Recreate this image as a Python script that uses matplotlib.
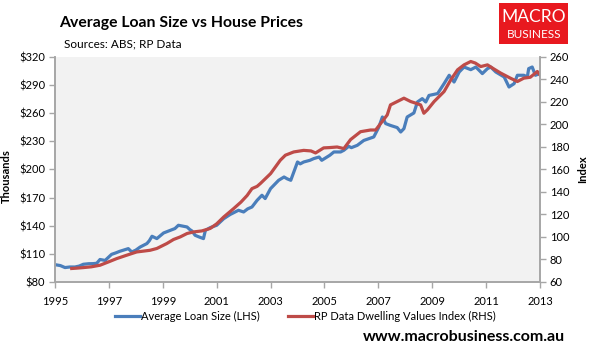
import matplotlib as mpl
mpl.rcParams["font.family"] = ["Lato", "DejaVu Sans"]
mpl.rcParams["font.size"] = 8
import matplotlib.pyplot as plt
from matplotlib.patches import Rectangle

# Average loan size ($ thousands, LHS)
loan_t = [1995.0, 1995.2, 1995.37, 1995.55, 1995.74, 1995.9, 1996.05, 1996.25, 1996.42,
          1996.55, 1996.67, 1996.86, 1997.1, 1997.25, 1997.4, 1997.72, 1997.85, 1998.0,
          1998.16, 1998.41, 1998.5, 1998.6, 1998.78, 1999.03, 1999.27, 1999.45, 1999.58,
          1999.9, 2000.0, 2000.08, 2000.2, 2000.35, 2000.51, 2000.58, 2000.76, 2001.0,
          2001.26, 2001.5, 2001.81, 2002.0, 2002.15, 2002.31, 2002.5, 2002.68, 2002.8,
          2003.0, 2003.3, 2003.5, 2003.62, 2003.75, 2004.0, 2004.1, 2004.23, 2004.46,
          2004.6, 2004.8, 2004.9, 2005.2, 2005.35, 2005.6, 2005.72, 2005.9, 2006.0,
          2006.22, 2006.46, 2006.83, 2007.02, 2007.15, 2007.27, 2007.45, 2007.7, 2007.83,
          2007.95, 2008.07, 2008.32, 2008.45, 2008.63, 2008.76, 2008.88, 2009.2, 2009.44,
          2009.63, 2009.81, 2010.0, 2010.18, 2010.43, 2010.62, 2010.86, 2011.05, 2011.17,
          2011.36, 2011.67, 2011.85, 2012.04, 2012.16, 2012.4, 2012.53, 2012.58, 2012.71,
          2012.83, 2012.96]
loan_v = [98.5, 97.5, 95.4, 96, 96, 97, 98.9, 99.5, 99.6,
          100, 104, 103, 109.5, 111, 112.7, 115.6, 112, 114,
          117.3, 121, 124, 128.8, 126.3, 132.3, 135, 137, 140.5,
          138.7, 136, 134.5, 129.8, 128, 126.3, 135, 138, 140.5,
          147.5, 152, 156.5, 154.7, 158, 160, 167.1, 172.5, 169,
          179.6, 188.5, 192, 190, 188.5, 208, 206, 208, 209.8,
          211.6, 213.3, 209.8, 215.2, 218.7, 218.7, 220.5, 224.7, 223.3,
          225.8, 231, 234.7, 245.3, 256, 249, 247, 244.7, 240,
          243.6, 256, 260.3, 272, 275.6, 272, 279, 281, 291.6,
          300.5, 293.3, 304, 309.3, 306.5, 309.3, 302.3, 307.6, 309.3,
          304, 298.7, 288, 291.6, 300.5, 300.5, 298.7, 307.6, 309.3,
          300.5, 302]

# RP Data dwelling values index (RHS)
rp_t = [1995.62, 1995.8, 1996.05, 1996.35, 1996.67, 1997.0, 1997.29, 1997.66, 1998.03,
        1998.3, 1998.53, 1998.78, 1999.15, 1999.4, 1999.65, 1999.9, 2000.14, 2000.45,
        2000.76, 2001.0, 2001.26, 2001.63, 2001.9, 2002.13, 2002.31, 2002.5, 2002.62,
        2003.0, 2003.36, 2003.55, 2003.86, 2004.23, 2004.5, 2004.67, 2004.97, 2005.2,
        2005.47, 2005.72, 2005.97, 2006.34, 2006.71, 2006.9, 2007.33, 2007.45, 2007.7,
        2007.95, 2008.2, 2008.38, 2008.57, 2008.69, 2008.82, 2009.07, 2009.44, 2009.69,
        2009.94, 2010.18, 2010.43, 2010.6, 2010.8, 2011.05, 2011.3, 2011.54, 2011.9,
        2012.16, 2012.4, 2012.64, 2012.9, 2013.0]
rp_v = [72, 72.3, 72.8, 73.5, 74.9, 78, 80.8, 83.8, 86.7,
        87.5, 88.2, 89.8, 94.2, 97.8, 100.1, 103.1, 104.5, 105.4,
        107.6, 111.7, 117.75, 125.25, 131, 136.9, 143, 145, 147.5,
        156.3, 168.2, 172.7, 175.6, 177, 176.5, 174.7, 179.2, 179.5,
        180, 178.6, 186.6, 193.6, 195.1, 195.1, 208.5, 217.4, 220.4,
        223.4, 220.4, 219, 217.4, 210, 213, 220.4, 229.3, 239.7,
        248.6, 253, 256, 254.6, 251.5, 253, 249.2, 245.7, 241.2,
        238.2, 241.2, 242, 247.1, 244]

years = list(range(1995, 2014, 2))
lhs_ticks = list(range(80, 321, 30))
rhs_ticks = list(range(60, 261, 20))

blue = "#4a7ebb"
red = "#be4b48"
grey = "#a6a6a6"

fig = plt.figure(figsize=(5.94, 3.58), dpi=100)
ax = fig.add_axes([0.0926, 0.2123, 0.8165, 0.6285])
ax2 = ax.twinx()

ax.set_facecolor("#f2f2f2")
l1, = ax.plot(loan_t, loan_v, color=blue, lw=2.3, label="Average Loan Size (LHS)")
l2, = ax2.plot(rp_t, rp_v, color=red, lw=2.3, label="RP Data Dwelling Values Index (RHS)")

ax.set_xlim(1995, 2013)
ax.set_ylim(80, 320)
ax2.set_ylim(60, 260)
ax.set_xticks(years)
ax.set_yticks(lhs_ticks)
ax.set_yticklabels(["$%d" % v for v in lhs_ticks])
ax2.set_yticks(rhs_ticks)

for a in (ax, ax2):
    a.spines["top"].set_visible(False)
    for s in ("left", "right", "bottom"):
        a.spines[s].set_color(grey)
        a.spines[s].set_linewidth(1.2)
    a.tick_params(colors=grey, labelcolor="black", length=4, width=1, labelsize=8, pad=3)
ax.tick_params(axis="x", pad=6)

ax.set_ylabel("Thousands", fontweight="bold", fontsize=8)
ax.yaxis.set_label_coords(-0.088, 0.47)
ax2.set_ylabel("Index", fontweight="bold", fontsize=8, labelpad=6)

fig.text(0.099, 0.925, "Average Loan Size vs House Prices", fontsize=11.3,
         fontweight="bold", ha="left", va="baseline")
fig.text(0.108, 0.877, "Sources: ABS; RP Data", fontsize=8.5, ha="left", va="center")

# logo
fig.patches.append(Rectangle((0.840, 0.877), 0.117, 0.115, transform=fig.transFigure,
                             facecolor="#e8191f", edgecolor="none"))
fig.text(0.8985, 0.953, "MACRO", color="white", fontsize=12.5, ha="center", va="center")
fig.text(0.8985, 0.903, "BUSINESS", color="white", fontsize=8.5, ha="center", va="center")

fig.legend(handles=[l1, l2], loc="center", bbox_to_anchor=(0.514, 0.115), ncol=2,
           frameon=False, fontsize=8, handlelength=2.3, handletextpad=0.1,
           columnspacing=2.5)

fig.text(0.951, 0.058, "www.macrobusiness.com.au", fontsize=11.5, fontweight="bold",
         ha="right", va="center")

fig.savefig("out.png", dpi=100)
